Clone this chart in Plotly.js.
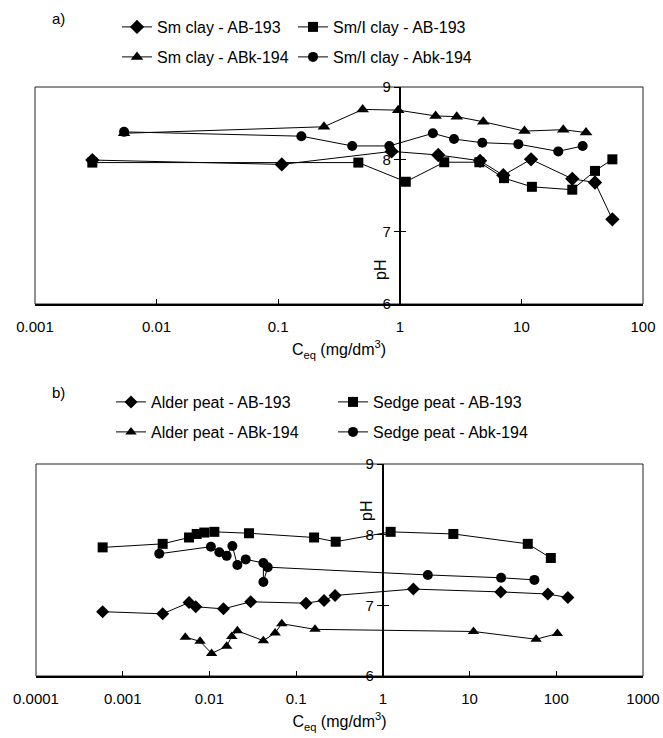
<!DOCTYPE html>
<html>
<head>
<meta charset="utf-8">
<script src="https://cdn.plot.ly/plotly-3.0.1.min.js"></script>
<style>html,body{margin:0;padding:0;background:#fff;}#chart{width:663px;height:738px;}</style>
</head>
<body>
<div id="chart"></div>
<script>
// ---- Panel a) data ----
const smClayAB193_x  = [0.00296, 0.107, 0.857, 2.07, 4.57, 7.1, 12.0, 26.2, 40.3, 56];
const smClayAB193_y  = [7.99, 7.93, 8.11, 8.06, 7.98, 7.78, 8.0, 7.73, 7.68, 7.17];
const smIClayAB193_x = [0.00296, 0.456, 1.12, 2.32, 4.51, 7.19, 12.2, 26.2, 40.3, 56];
const smIClayAB193_y = [7.955, 7.955, 7.69, 7.96, 7.96, 7.74, 7.62, 7.58, 7.84, 8.0];
const smClayABk194_x  = [0.0054, 0.238, 0.495, 0.97, 1.97, 2.94, 4.86, 10.6, 22.1, 34.0];
const smClayABk194_y  = [8.36, 8.45, 8.69, 8.68, 8.60, 8.59, 8.52, 8.39, 8.41, 8.37];
const smIClayAbk194_x = [0.0054, 0.155, 0.406, 0.82, 1.87, 2.79, 4.77, 9.43, 20.1, 31.9];
const smIClayAbk194_y = [8.38, 8.32, 8.185, 8.185, 8.36, 8.28, 8.23, 8.21, 8.11, 8.185];

// ---- Panel b) data ----
const alderAB193_x = [0.000587, 0.00289, 0.00582, 0.00695, 0.0145, 0.0299, 0.130, 0.21, 0.281, 2.25, 22.9, 79.8, 136];
const alderAB193_y = [6.91, 6.88, 7.04, 6.98, 6.95, 7.05, 7.03, 7.07, 7.14, 7.23, 7.19, 7.16, 7.11];
const sedgeAB193_x = [0.000587, 0.00289, 0.00582, 0.00713, 0.00873, 0.0114, 0.0286, 0.161, 0.286, 1.23, 6.5, 46.9, 86.5];
const sedgeAB193_y = [7.82, 7.87, 7.96, 8.01, 8.03, 8.04, 8.02, 7.96, 7.90, 8.04, 8.01, 7.87, 7.67];
const alderABk194_x = [0.00527, 0.0078, 0.0106, 0.0158, 0.0181, 0.021, 0.0419, 0.0572, 0.0683, 0.165, 11.1, 58.5, 103];
const alderABk194_y = [6.55, 6.49, 6.32, 6.42, 6.56, 6.64, 6.50, 6.61, 6.74, 6.66, 6.63, 6.52, 6.60];
const sedgeAbk194_x = [0.00264, 0.0104, 0.0130, 0.0158, 0.0184, 0.021, 0.0262, 0.0419, 0.0419, 0.047, 3.3, 23.1, 55.9];
const sedgeAbk194_y = [7.73, 7.83, 7.75, 7.70, 7.84, 7.57, 7.65, 7.60, 7.33, 7.54, 7.43, 7.39, 7.36];

// ---- Tick labels ----
const tickValsA = [0.001, 0.01, 0.1, 1, 10, 100];
const tickTextA = ["0.001", "0.01", "0.1", "1", "10", "100"];
const tickValsB = [0.0001, 0.001, 0.01, 0.1, 1, 10, 100, 1000];
const tickTextB = ["0.0001", "0.001", "0.01", "0.1", "1", "10", "100", "1000"];
const yTickVals = [6, 7, 8, 9];
const yTickText = ["6", "7", "8", "9"];

const FONT = "Liberation Sans, Arial, sans-serif";
const W = 663, H = 738;

function tr(name, x, y, sym, size, xa, ya, leg) {
  return {
    type: 'scatter', mode: 'lines+markers', name: name, x: x, y: y,
    xaxis: xa, yaxis: ya, legend: leg, showlegend: true,
    line: {color: '#000', width: 1},
    marker: {symbol: sym, size: size, color: '#000', line: {width: 0}}
  };
}

const data = [
  tr("Sm clay - AB-193", smClayAB193_x, smClayAB193_y, 'diamond', 11, 'x', 'y', 'legend'),
  tr("Sm/I clay - AB-193", smIClayAB193_x, smIClayAB193_y, 'square', 10, 'x', 'y', 'legend2'),
  tr("Sm clay - ABk-194", smClayABk194_x, smClayABk194_y, 'triangle-up', 11, 'x', 'y', 'legend3'),
  tr("Sm/I clay - Abk-194", smIClayAbk194_x, smIClayAbk194_y, 'circle', 10, 'x', 'y', 'legend4'),
  tr("Alder peat - AB-193", alderAB193_x, alderAB193_y, 'diamond', 10, 'x2', 'y2', 'legend5'),
  tr("Sedge peat - AB-193", sedgeAB193_x, sedgeAB193_y, 'square', 10, 'x2', 'y2', 'legend6'),
  tr("Alder peat - ABk-194", alderABk194_x, alderABk194_y, 'triangle-up', 10, 'x2', 'y2', 'legend7'),
  tr("Sedge peat - Abk-194", sedgeAbk194_x, sedgeAbk194_y, 'circle', 10, 'x2', 'y2', 'legend8'),
  {type:'scatter', x:[], y:[], xaxis:'x', yaxis:'y3', showlegend:false},
  {type:'scatter', x:[], y:[], xaxis:'x2', yaxis:'y4', showlegend:false}
];

// panel geometry (px)
const aL = 35, aR = 643, aT = 87, aB = 304;
const bL = 36, bR = 643, bT = 464, bB = 676;
const axDom = [aL / W, aR / W], ayDom = [1 - aB / H, 1 - aT / H];
const bxDom = [bL / W, bR / W], byDom = [1 - bB / H, 1 - bT / H];
const aPos = axDom[0] + (3 / 5) * (axDom[1] - axDom[0]);
const bPos = bxDom[0] + (4 / 7) * (bxDom[1] - bxDom[0]);

function xAxis(dom, range, tv, tt, anchor) {
  return {
    type: 'log', domain: dom, range: range, anchor: anchor,
    showline: true, linecolor: '#000', linewidth: 2, mirror: false,
    ticks: 'inside', ticklen: 5, tickwidth: 1, tickcolor: '#000',
    tickmode: 'array', tickvals: tv, ticktext: tt,
    showgrid: false, zeroline: false,
    tickfont: {family: FONT, size: 15, color: '#000'},
    ticklabelstandoff: 8,
    title: {text: "C<sub>eq</sub> (mg/dm<sup>3</sup>)", font: {family: FONT, size: 16, color: '#000'}, standoff: 10}
  };
}
function yAxis(dom, pos) {
  return {
    domain: dom, range: [6, 9], anchor: 'free', position: pos,
    showline: true, linecolor: '#000', linewidth: 2,
    ticks: 'outside', ticklen: 5, tickwidth: 1, tickcolor: '#000',
    tickmode: 'array', tickvals: yTickVals, ticktext: yTickText,
    showgrid: false, zeroline: false,
    tickfont: {family: FONT, size: 15, color: '#000'}
  };
}
function yOver(over, pos) {
  return {
    overlaying: over, range: [6, 9], anchor: 'free', position: pos,
    showline: false, ticks: 'inside', ticklen: 5, tickwidth: 1, tickcolor: '#000',
    tickmode: 'array', tickvals: yTickVals, showticklabels: false,
    showgrid: false, zeroline: false
  };
}
function leg(xpx, ypx) {
  return {x: xpx / W, y: 1 - ypx / H, xanchor: 'left', yanchor: 'middle',
          bgcolor: 'rgba(0,0,0,0)', borderwidth: 0,
          font: {family: FONT, size: 16, color: '#000'}};
}

const layout = {
  width: W, height: H,
  margin: {l: 0, r: 0, t: 0, b: 0},
  showlegend: true,
  paper_bgcolor: '#fff', plot_bgcolor: 'rgba(0,0,0,0)',
  font: {family: FONT, color: '#000'},
  xaxis: xAxis(axDom, [-3, 2], tickValsA, tickTextA, 'y'),
  yaxis: yAxis(ayDom, aPos),
  yaxis3: yOver('y', aPos),
  xaxis2: xAxis(bxDom, [-4, 3], tickValsB, tickTextB, 'y2'),
  yaxis2: yAxis(byDom, bPos),
  yaxis4: yOver('y2', bPos),
  legend: leg(117, 27),
  legend2: leg(293, 27),
  legend3: leg(117, 57),
  legend4: leg(293, 57),
  legend5: leg(111, 402),
  legend6: leg(333, 402),
  legend7: leg(111, 432),
  legend8: leg(333, 432),
  shapes: [
    {type: 'rect', xref: 'x domain', yref: 'y domain', x0: 0, x1: 1, y0: 0, y1: 1, line: {color: '#222', width: 1}, layer: 'below'},
    {type: 'rect', xref: 'x2 domain', yref: 'y2 domain', x0: 0, x1: 1, y0: 0, y1: 1, line: {color: '#222', width: 1}, layer: 'below'}
  ],
  annotations: [
    {text: 'a)', xref: 'paper', yref: 'paper', x: 50 / W, y: 1 - 18 / H, xanchor: 'left', yanchor: 'middle', showarrow: false, font: {family: FONT, size: 15, color: '#000'}},
    {text: 'b)', xref: 'paper', yref: 'paper', x: 50 / W, y: 1 - 392 / H, xanchor: 'left', yanchor: 'middle', showarrow: false, font: {family: FONT, size: 15, color: '#000'}},
    {text: 'pH', xref: 'paper', yref: 'paper', x: 380 / W, y: 1 - 270 / H, xanchor: 'center', yanchor: 'middle', textangle: -90, showarrow: false, font: {family: FONT, size: 16, color: '#000'}},
    {text: 'pH', xref: 'paper', yref: 'paper', x: 366 / W, y: 1 - 511 / H, xanchor: 'center', yanchor: 'middle', textangle: -90, showarrow: false, font: {family: FONT, size: 16, color: '#000'}}
  ]
};

Plotly.newPlot('chart', data, layout, {displayModeBar: false, staticPlot: true});
</script>
</body>
</html>
